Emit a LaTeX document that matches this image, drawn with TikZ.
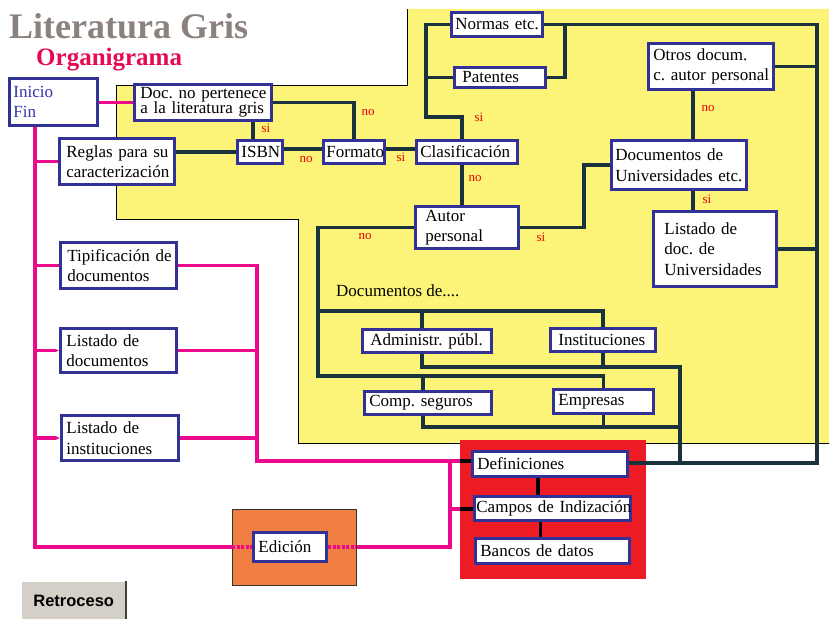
\documentclass[tikz,border=0pt]{standalone}
\usepackage{fontspec}
\setmainfont{Liberation Serif}
\newfontfamily\btnfont{Liberation Sans}
\usetikzlibrary{calc,arrows.meta}
\definecolor{boxblue}{RGB}{50,50,150}
\definecolor{conncol}{RGB}{25,50,60}
\definecolor{pinkc}{RGB}{236,10,140}
\definecolor{yel}{RGB}{252,244,120}
\definecolor{redbox}{RGB}{237,28,36}
\definecolor{orangebox}{RGB}{240,125,65}
\definecolor{titlegray}{RGB}{140,130,125}
\definecolor{orgred}{RGB}{230,10,80}
\definecolor{labred}{RGB}{240,0,0}
\definecolor{inicioblue}{RGB}{50,50,170}
\definecolor{btngray}{RGB}{212,208,200}

\newcommand\nohy{\hyphenpenalty10000\relax\exhyphenpenalty10000\relax}

\tikzset{
  box/.style={draw=boxblue, line width=2.8pt, fill=white, inner ysep=0pt,
              align=left, font=\fontsize{17}{20.5}\selectfont, text=black,
              execute at begin node=\nohy},
  conn/.style={draw=conncol, line width=3.2pt},
  pinkl/.style={draw=pinkc, line width=3.2pt},
  blk/.style={draw=black, line width=3.2pt},
  lab/.style={text=labred, font=\fontsize{13}{13}\selectfont, inner sep=0pt},
}

\newcommand\bx[7][5]{%
 \pgfmathsetmacro\bw{#5-#3-2.8}\pgfmathsetmacro\bh{#6-#4-2.8}%
 \pgfmathsetmacro\bcx{(#3+#5)/2}\pgfmathsetmacro\bcy{(#4+#6)/2}%
 \pgfmathsetmacro\btw{#5-#3-2.8-2*#1}%
 \node[box, minimum width=\bw pt, minimum height=\bh pt, text width=\btw pt, inner xsep=#1 pt] (#2) at (\bcx,\bcy) {#7};}

\begin{document}
\begin{tikzpicture}[x=1pt,y=-1pt]
\useasboundingbox (0,0) rectangle (829,618);

% yellow region
\fill[yel] (116,85) -- (407,85) -- (407,9) -- (829,9) -- (829,443) -- (298,443) -- (298,219) -- (116,219) -- cycle;
\draw[black, line width=1pt] (407,9) -- (407,85) -- (116,85) -- (116,219) -- (298,219) -- (298,443) -- (829,443);

% titles
\node[anchor=base west, inner sep=0pt, text=titlegray, font=\fontsize{36}{36}\selectfont\bfseries] (title) at (9,39) {Literatura Gris};
\node[anchor=base west, inner sep=0pt, text=orgred, font=\fontsize{25}{25}\selectfont\bfseries] (subtitle) at (36,65) {Organigrama};

% boxes
\bx[4]{inicio}{8}{77}{99}{127}{\color{inicioblue}Inicio\\Fin}
\bx[6]{doc}{133}{83}{273}{122}{Doc.~no~pertenece\\[-5pt]a~la~literatura~gris}
\bx[7]{reglas}{58}{137}{176}{186}{Reglas~para~su\\caracterización}
\bx[4]{isbn}{236}{139}{284}{165}{ISBN}
\bx[3]{formato}{322}{139}{386}{165}{Formato}
\bx[4]{clasif}{415}{139}{519}{165}{Clasificación}
\bx[4]{normas}{450}{11}{544}{38}{Normas~etc.}
\bx[8]{patentes}{453}{66}{547}{89}{Patentes}
\bx[5]{otros}{647}{42}{775}{91}{Otros~docum.\\c.~autor~personal}
\bx[4]{docuniv}{610}{139}{748}{191}{Documentos~de\\Universidades~etc.}
\bx[11]{listuniv}{652}{210}{778}{288}{Listado~de\\doc.~de\\Universidades}
\bx[10]{autor}{414}{205}{520}{250}{Autor\\personal}
\bx[8]{admin}{361}{328}{493}{354}{Administr.~públ.}
\bx[8]{inst}{549}{327}{657}{353}{Instituciones}
\bx[5]{comp}{363}{390}{493}{416}{Comp.~seguros}
\bx[5]{empr}{552}{388}{655}{415}{Empresas}
\bx[7]{tipif}{59}{241}{178}{290}{Tipificación~de\\documentos}
\bx[6]{listdoc}{59}{327}{178}{374}{Listado~de\\documentos}
\bx[5]{listinst}{60}{414}{180}{462}{Listado~de\\instituciones}

% coordinates
\coordinate (cj) at (426,117);
\coordinate (pn) at (565,0);
\coordinate (rt) at (817,24);
\coordinate (rb) at (817,463);
\coordinate (vx) at (693,0);
\coordinate (ax) at (584,0);
\coordinate (h1) at (318,311);
\coordinate (h2) at (318,376);
\coordinate (m1) at (680,367);
\coordinate (m2) at (680,427);
\coordinate (trunk) at (35,127);
\coordinate (pj) at (257,0);
\coordinate (pk) at (450,461);
\coordinate (redl) at (460,0);
\coordinate (defr) at (629,463);

% dark connectors
\draw[conn] (doc.east) -| (formato.north);
\draw[conn] ([xshift=-7pt]isbn.north) -- ([xshift=-7pt]isbn.north |- doc.south);
\draw[conn] (reglas.east |- isbn.west) -- (isbn.west);
\draw[conn] ([yshift=3pt]isbn.east) -- ([yshift=3pt]formato.west);
\draw[conn] ([yshift=3pt]formato.east) -- ([yshift=3pt]clasif.west);
\draw[conn] ([xshift=-5pt]clasif.north) |- (cj) |- (normas.west);
\draw[conn] (cj |- patentes.west) -- (patentes.west);
\draw[conn] (normas.east) -| (rb) -- (defr);
\draw[conn] (patentes.east) -| (pn |- normas.east);
\draw[conn] (otros.east) -- (rt |- otros.east);
\draw[conn] (otros.south -| vx) -- (docuniv.north -| vx);
\draw[conn] (docuniv.south -| vx) -- (listuniv.north -| vx);
\draw[conn] (listuniv.east) -- (rt |- listuniv.east);
\draw[conn] ([xshift=-5pt]clasif.south) -- ([xshift=-5pt]clasif.south |- autor.north);
\draw[conn] (autor.east) -| (ax |- docuniv.west) -- (docuniv.west);
\draw[conn] (autor.west) -| (h2) -| (empr.north);
\draw[conn] (h1) -| (inst.north);
\draw[conn] ([xshift=-5pt]admin.north) -- ([xshift=-5pt]admin.north |- h1);
\draw[conn] ([xshift=-5pt]comp.north) -- ([xshift=-5pt]comp.north |- h2);
\draw[conn] ([xshift=-5pt]admin.south) |- (m1) -- (m1 |- rb);
\draw[conn] (inst.south) -- (inst.south |- m1);
\draw[conn] ([xshift=-5pt]comp.south) |- (m2);
\draw[conn] (empr.south) -- (empr.south |- m2);

% pink connectors
\draw[pinkl] (inicio.east |- doc.west) -- (doc.west);
\draw[pinkl] (trunk) |- (252,547);
\draw[pinkl] (trunk |- reglas.west) -- (reglas.west);
\draw[pinkl] (trunk |- tipif.west) -- (tipif.west);
\draw[pinkl, -{Latex[length=4pt,width=4pt]}] (trunk |- listdoc.west) -- (listdoc.west);
\draw[pinkl, -{Latex[length=4pt,width=4pt]}] (trunk |- listinst.west) -- (listinst.west);
\draw[pinkl] (tipif.east) -| (pj |- pk) -- (redl |- pk);
\draw[pinkl] (listdoc.east) -- (pj |- listdoc.east);
\draw[pinkl] (listinst.east) -- (pj |- listinst.east);
\draw[pinkl] (pk) -- (pk |- 0,547) -- (328,547);
\draw[pinkl] (pk |- 0,509) -- (redl |- 0,509);

% red box and orange box
\fill[redbox] (460,440) rectangle (646,579);
\filldraw[fill=orangebox, draw=black!80, line width=0.8pt] (232,509) rectangle (356,585);
\draw[pinkl, dash pattern=on 3pt off 1.5pt] (232,547) -- (252,547);
\draw[pinkl, dash pattern=on 3pt off 1.5pt] (328,547) -- (356,547);

\bx[5]{defin}{471}{450}{629}{478}{Definiciones}
\bx[2]{campos}{473}{495}{632}{522}{Campos~de~Indización}
\bx[5]{bancos}{474}{537}{631}{565}{Bancos~de~datos}
\bx[5]{edic}{252}{531}{328}{563}{Edición}

\draw[conn] (rb) -- (defin.east |- rb);
\draw[blk] (redl |- pk) -- (defin.west |- pk);
\draw[blk] (redl |- 0,509) -- (campos.west |- 0,509);
\draw[blk] ([xshift=-12pt]defin.south) -- ([xshift=-12pt]defin.south |- campos.north);
\draw[blk] ([xshift=-12pt]campos.south) -- ([xshift=-12pt]campos.south |- bancos.north);

% labels
\node[lab] (l1) at (266,128) {si};
\node[lab] (l2) at (368,112) {no};
\node[lab] (l3) at (306,159) {no};
\node[lab] (l4) at (401,157) {si};
\node[lab] (l5) at (479,117) {si};
\node[lab] (l6) at (475,178) {no};
\node[lab] (l7) at (365,236) {no};
\node[lab] (l8) at (541,237) {si};
\node[lab] (l9) at (708,109) {no};
\node[lab] (l10) at (707,199) {si};

\node[anchor=base west, inner sep=0pt, font=\fontsize{17}{20}\selectfont] (docde) at (336,296) {Documentos de....};

% Retroceso button
\node[fill=btngray, minimum width=105pt, minimum height=40pt, anchor=north west, inner sep=0pt,
      font=\btnfont\bfseries\fontsize{16.5}{17}\selectfont] (retro) at (21,581) {Retroceso};
\draw[white, line width=1.5pt] (retro.south west) |- (retro.north east);
\draw[black!75, line width=2pt] (retro.north east) -- (retro.south east);
\end{tikzpicture}
\end{document}
